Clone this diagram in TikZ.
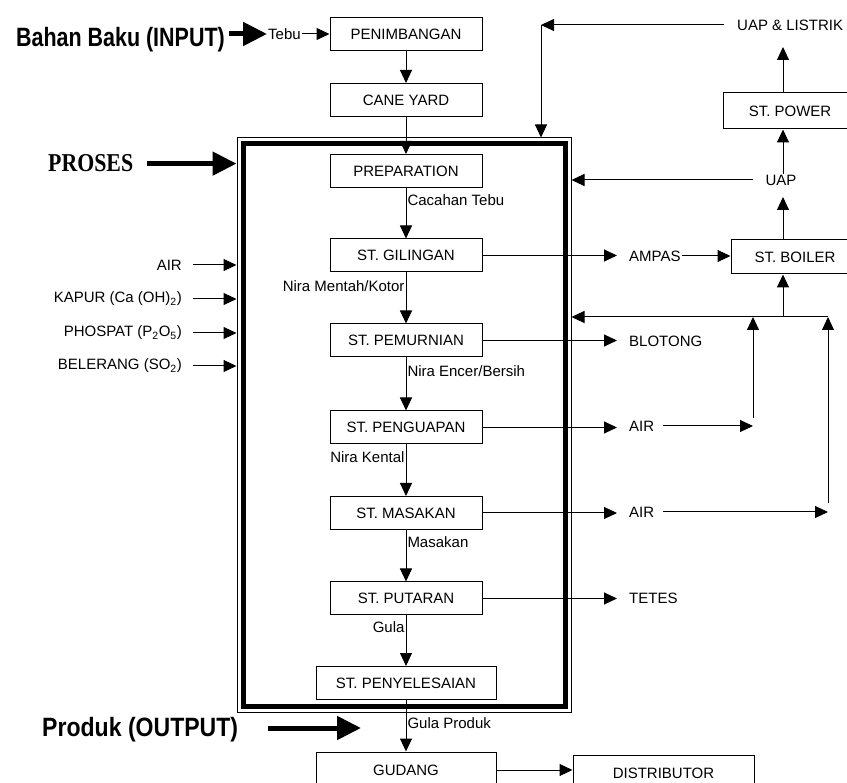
\documentclass[tikz,border=0pt]{standalone}
\usepackage{fontspec}
\setmainfont{Liberation Sans}
\newfontfamily\titlesans{Liberation Sans}
\newfontfamily\titleserif{Liberation Serif}
\usepackage{graphicx}
\usetikzlibrary{arrows.meta,positioning}

\tikzset{
  arr/.style={line width=1pt, -{Triangle[length=13pt,width=12pt]}},
  bigarr/.style={line width=5pt, -{Triangle[length=24pt,width=23pt]}},
  box/.style={draw, line width=1pt, minimum width=152pt, minimum height=33pt,
    inner sep=0pt, font=\fontsize{15}{15}\selectfont},
  flowlbl/.style={inner sep=1pt, font=\fontsize{15}{15}\selectfont},
  sidelbl/.style={inner sep=1pt, font=\fontsize{15}{15}\selectfont},
}

\begin{document}
\begin{tikzpicture}[x=1pt, y={(0,-1pt)}]
  \useasboundingbox (0,0) rectangle (847,783);

  % process frame
  \node[draw, line width=1pt, minimum width=334pt, minimum height=574pt, inner sep=0pt] (frame) at (404,425) {};
  \draw[line width=5pt] (243.5,143.5) rectangle (565.5,706);

  % main column
  \node[box] (pen) at (406,34) {PENIMBANGAN};
  \node[box] (cane) at (406,100) {CANE YARD};
  \node[box] (prep) at (406,171) {PREPARATION};
  \node[box] (gil) at (406,255.5) {ST. GILINGAN};
  \node[box] (pem) at (406,340.5) {ST. PEMURNIAN};
  \node[box] (peng) at (406,427.5) {ST. PENGUAPAN};
  \node[box] (mas) at (406,513) {ST. MASAKAN};
  \node[box] (put) at (406,598.5) {ST. PUTARAN};
  \node[box, minimum width=180pt] (peny) at (406,683) {ST. PENYELESAIAN};
  \node[box, minimum width=180pt, minimum height=36pt] (gud) at (406,770) {GUDANG};
  \node[box, minimum width=181pt, minimum height=36pt] (dist) at (663.5,773) {DISTRIBUTOR};

  \draw[arr] (pen) -- (cane);
  \draw[arr] (cane) -- (prep);
  \draw[arr] (prep) -- node[flowlbl, right, pos=0.25] {Cacahan Tebu} (gil);
  \draw[arr] (gil) -- node[flowlbl, left, pos=0.27] {Nira Mentah/Kotor} (pem);
  \draw[arr] (pem) -- node[flowlbl, right, pos=0.26] {Nira Encer/Bersih} (peng);
  \draw[arr] (peng) -- node[flowlbl, left, pos=0.25] {Nira Kental} (mas);
  \draw[arr] (mas) -- node[flowlbl, right, pos=0.23] {Masakan} (put);
  \draw[arr] (put) -- node[flowlbl, left, pos=0.23] {Gula} (peny);
  \draw[arr] (peny) -- node[flowlbl, right, pos=0.44] {Gula Produk} (gud);
  \draw[arr] (gud.east) -- (gud.east -| dist.west);

  % input, process, output
  \node[anchor=base east, inner sep=0pt] (bahan) at (225,47)
    {\scalebox{0.81}[1]{\titlesans\bfseries\fontsize{26.5}{26.5}\selectfont Bahan Baku (INPUT)}};
  \node[flowlbl, anchor=west] (tebu) at (267,34) {Tebu};
  \draw[bigarr] ([xshift=4pt]bahan.east |- tebu.west) -- (tebu.west);
  \draw[arr] (tebu) -- (pen);

  \node[anchor=base west, inner sep=0pt] (proses) at (48,172)
    {\scalebox{0.85}[1]{\titleserif\bfseries\fontsize{25.7}{25.7}\selectfont PROSES}};
  \draw[bigarr] ([xshift=14pt]proses.east) -- (proses.east -| frame.west);

  \node[anchor=base west, inner sep=0pt] (produk) at (42,736)
    {\scalebox{0.87}[1]{\titlesans\bfseries\fontsize{26.5}{26.5}\selectfont Produk (OUTPUT)}};
  \coordinate (outtip) at (361,728);
  \draw[bigarr] ([xshift=30pt]produk.east |- outtip) -- (outtip);

  % additives
  \node[sidelbl, anchor=east] (air0) at (183,265) {AIR};
  \node[sidelbl, anchor=east] (kapur) at (183,299) {KAPUR (Ca (OH)\textsubscript{2})};
  \node[sidelbl, anchor=east] (phos) at (183,333) {PHOSPAT (P\textsubscript{2}O\textsubscript{5})};
  \node[sidelbl, anchor=east] (bel) at (183,366) {BELERANG (SO\textsubscript{2})};
  \foreach \n in {air0,kapur,phos,bel}
    \draw[arr] ([xshift=10pt]\n.east) -- (\n.east -| frame.west);

  % by-products
  \node[sidelbl, anchor=west] (ampas) at (628,256) {AMPAS};
  \node[sidelbl, anchor=west] (blotong) at (628,341) {BLOTONG};
  \node[sidelbl, anchor=west] (air1) at (628,426) {AIR};
  \node[sidelbl, anchor=west] (air2) at (628,512) {AIR};
  \node[sidelbl, anchor=west] (tetes) at (628,598) {TETES};
  \foreach \s/\t in {gil/ampas, pem/blotong, peng/air1, mas/air2, put/tetes}
    \draw[arr, shorten >=11pt] (\s.east) -- (\s.east -| \t.west);

  % boiler and power
  \node[box, minimum width=128pt, minimum height=34pt] (boiler) at (795,257) {ST. BOILER};
  \node[box, minimum width=134pt, minimum height=36pt] (power) at (790,111) {ST. POWER};
  \node[sidelbl, anchor=west] (ul) at (736,25) {UAP \& LISTRIK};
  \node[sidelbl] (uap) at (781,180) {UAP};
  \coordinate (riser) at (783,0);
  \coordinate (corner) at (541,25);
  \coordinate (ultip) at (783,47);
  \coordinate (uaptip) at (783,197);
  \coordinate (jb) at (783,317);
  \coordinate (j1) at (753,317);
  \coordinate (j2) at (828,317);
  \coordinate (r1) at (753,418);
  \coordinate (r2) at (828,503);

  \draw[arr] (ampas) -- (ampas -| boiler.west);
  \draw[arr] ([xshift=-12pt]ul.west) -- (corner);
  \draw[arr] (corner) -- (corner |- frame.north);
  \draw[arr] (riser |- power.north) -- (ultip);
  \draw[arr] (riser |- uap.north) -- (riser |- power.south);
  \draw[arr] ([xshift=-11pt]uap.west) -- (uap.west -| frame.east);
  \draw[arr] (riser |- boiler.north) -- (uaptip);
  \draw[arr] (jb) -- (riser |- boiler.south);
  \draw[arr] (j2) -- (j2 -| frame.east);
  \draw[arr] (r1) -- (j1);
  \draw[arr] (r2) -- (j2);
  \draw[arr] ([xshift=8pt]air1.east) -- (air1.east -| r1);
  \draw[arr] ([xshift=8pt]air2.east) -- (air2.east -| r2);
\end{tikzpicture}
\end{document}
